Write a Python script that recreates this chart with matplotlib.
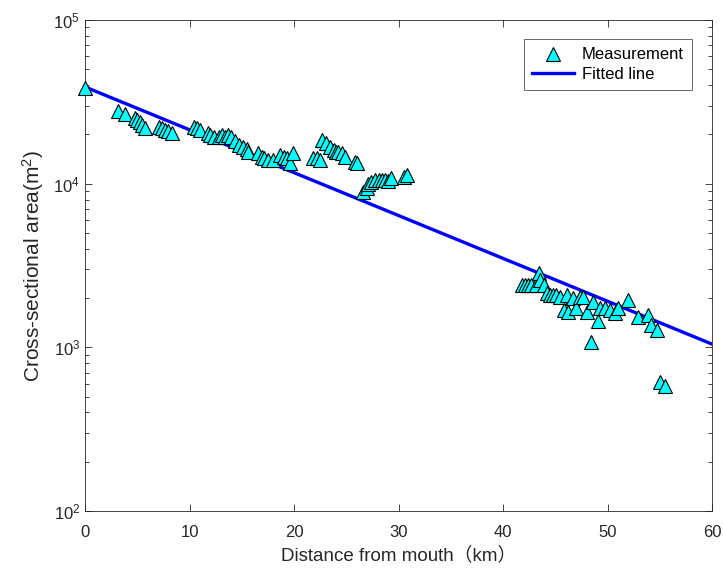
import numpy as np
import matplotlib
matplotlib.use("Agg")
import matplotlib.pyplot as plt
from matplotlib.ticker import LogLocator, FixedLocator, NullFormatter

# Measurement data (distance km, cross-sectional area m^2)
distance_km = [
    0.0,
    3.2, 3.8, 4.8, 5.0, 5.3, 5.5, 5.7,
    7.1, 7.4, 7.7, 7.9, 8.3,
    10.4, 10.7, 11.0, 11.8, 12.0, 12.3, 12.8, 13.1, 13.4, 13.7, 14.0,
    14.4, 14.7, 15.1, 15.5, 15.6, 16.6, 16.9, 17.1, 17.5, 18.0,
    18.7, 19.0, 19.3, 19.6, 19.9,
    21.8, 22.2, 22.5, 22.65, 23.1, 23.4, 23.8, 24.0, 24.2, 24.6, 24.9, 25.8, 26.0,
    26.6, 27.0, 27.1, 27.4, 27.75, 28.1, 28.4, 28.7, 29.0, 29.3, 30.5, 30.8,
    41.8, 42.1, 42.4, 42.7, 43.2, 43.4, 43.5, 43.9, 44.2, 44.5, 44.8, 45.1, 45.5,
    45.8, 46.1, 46.2, 46.7, 47.0, 47.4, 47.7, 48.0, 48.4, 48.6, 49.1, 49.3, 49.8,
    50.2, 50.7, 51.0, 52.0, 52.9, 53.9, 54.2, 54.7, 55.0, 55.5,
]
area_m2 = [
    38500,
    27800, 26700, 25200, 24500, 23800, 22800, 21900,
    22200, 21900, 21300, 21000, 20400,
    22300, 21800, 21300, 20300, 19800, 19400, 19400, 19800, 19400, 19800, 19400,
    18100, 17200, 16800, 16400, 15700, 15300, 14600, 14300, 14000, 14000,
    15000, 14600, 14300, 13300, 15300,
    14300, 14300, 14000, 18500, 17700, 16800, 16100, 15700, 15700, 15300, 14600, 13600, 13300,
    8930, 9370, 9910, 10280, 10540, 10540, 10540, 10540, 10400, 10790, 11040, 11300,
    2400, 2420, 2400, 2400, 2420, 2840, 2580, 2400, 2140, 2090, 2090, 2090, 2040,
    1690, 2090, 1650, 1990, 1730, 2040, 2040, 1650, 1080, 1900, 1440, 1730, 1730,
    1690, 1620, 1730, 1950, 1540, 1580, 1370, 1280, 610, 580,
]

# Fitted exponential: A = A0 * exp(-k x)
fit_A0 = 39000.0
fit_k = 0.0603
fit_x_range = [0, 60]

x_ticks = [0, 10, 20, 30, 40, 50, 60]

plt.rcParams['font.family'] = ['Liberation Sans', 'Noto Sans CJK SC', 'DejaVu Sans']
plt.rcParams['mathtext.fontset'] = 'custom'
plt.rcParams['mathtext.rm'] = 'Liberation Sans'
plt.rcParams['mathtext.it'] = 'Liberation Sans'

fig = plt.figure(figsize=(7.23, 5.71), dpi=100)
ax = fig.add_axes([85/723, 1 - 511/571, 627/723, 491/571])

ax.plot(distance_km, area_m2, linestyle='none', marker='^', markersize=10,
        markerfacecolor=(0, 1, 1), markeredgecolor='black', markeredgewidth=0.8,
        label='Measurement', zorder=3, clip_on=False)
xf = np.linspace(fit_x_range[0], fit_x_range[1], 200)
ax.plot(xf, fit_A0 * np.exp(-fit_k * xf), color=(0, 0, 1), linewidth=2.4,
        label='Fitted line', zorder=2)

ax.set_yscale('log')
ax.set_xlim(0, 60)
ax.set_ylim(1e2, 1e5)
ax.xaxis.set_major_locator(FixedLocator(x_ticks))
ax.yaxis.set_major_locator(LogLocator(base=10, numticks=10))
ax.yaxis.set_minor_locator(LogLocator(base=10, subs=np.arange(2, 10), numticks=10))
ax.yaxis.set_minor_formatter(NullFormatter())
ax.tick_params(which='both', direction='in', top=True, right=True,
               labelsize=12, colors='#262626', labelcolor='#262626')
ax.tick_params(which='major', length=5, width=0.6)
ax.tick_params(which='minor', length=3, width=0.6)
ax.tick_params(axis='x', which='major', pad=10)
for s in ax.spines.values():
    s.set_linewidth(0.6)
    s.set_color('#262626')

ax.set_xlabel('Distance from mouth（km）', fontsize=13.5, color='#262626', labelpad=5)
ax.set_ylabel('Cross-sectional area(m$^{2}$)', fontsize=15, color='#262626', labelpad=5)

leg = ax.legend(loc='upper right', bbox_to_anchor=(0.968, 0.961), borderaxespad=0,
                fontsize=12, frameon=True, fancybox=False, edgecolor='#262626',
                handlelength=2.5, handletextpad=0.45, borderpad=0.5,
                labelspacing=0.25)
leg.get_frame().set_linewidth(0.6)

fig.savefig('out.png', dpi=100)
